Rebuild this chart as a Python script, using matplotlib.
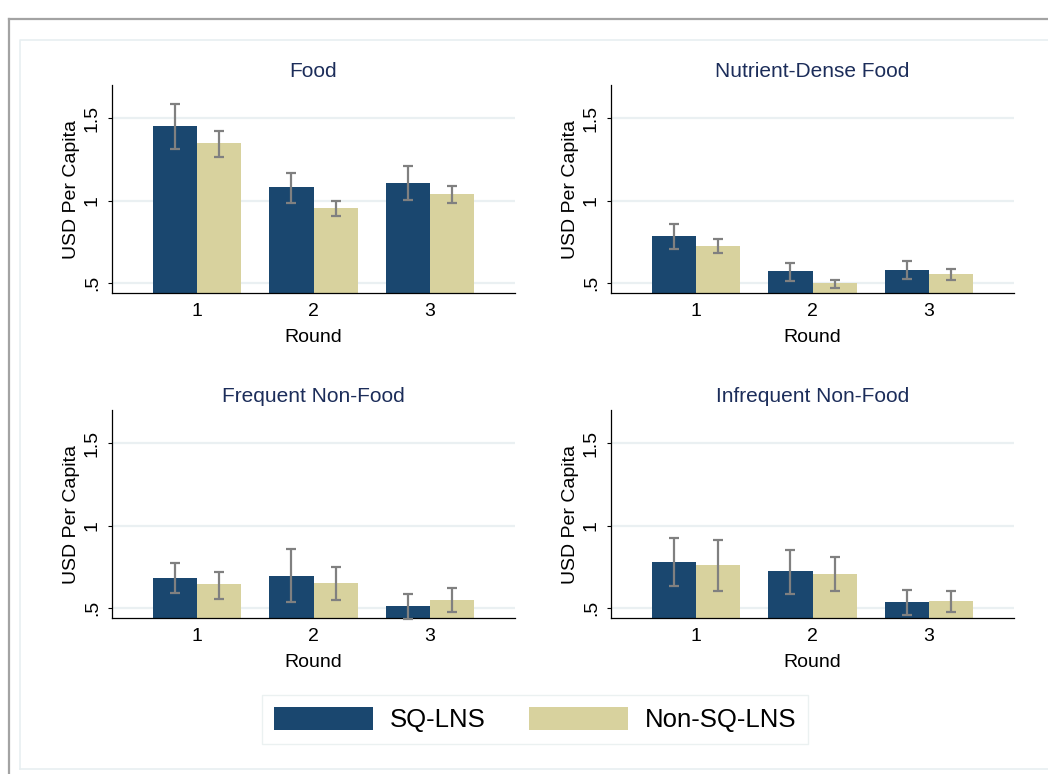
import matplotlib.pyplot as plt
import numpy as np
from matplotlib.patches import Patch
from matplotlib.lines import Line2D

plt.rcParams['font.family'] = ['Liberation Sans', 'DejaVu Sans']

rounds = [1, 2, 3]
titles = ["Food", "Nutrient-Dense Food", "Frequent Non-Food", "Infrequent Non-Food"]
groups = ["SQ-LNS", "Non-SQ-LNS"]

# means and 95% CI bounds, one row per panel
sq_mean = [[1.453, 1.081, 1.106], [0.786, 0.569, 0.578], [0.683, 0.695, 0.512], [0.778, 0.721, 0.532]]
sq_lo = [[1.313, 0.986, 1.002], [0.707, 0.512, 0.523], [0.587, 0.534, 0.432], [0.630, 0.585, 0.453]]
sq_hi = [[1.587, 1.170, 1.211], [0.854, 0.622, 0.630], [0.774, 0.854, 0.581], [0.921, 0.851, 0.605]]
non_mean = [[1.348, 0.954, 1.041], [0.725, 0.496, 0.554], [0.642, 0.648, 0.549], [0.760, 0.707, 0.543]]
non_lo = [[1.267, 0.907, 0.984], [0.678, 0.470, 0.518], [0.555, 0.545, 0.471], [0.604, 0.600, 0.476]]
non_hi = [[1.421, 0.996, 1.091], [0.767, 0.516, 0.583], [0.720, 0.748, 0.622], [0.910, 0.808, 0.601]]

navy = "#1a476f"
sand = "#d8d29e"
err_col = "#808080"
grid_col = "#eaf0f2"
title_col = "#1c2d5a"

fig = plt.figure(figsize=(10.48, 7.74), dpi=100)
fig.patch.set_facecolor("white")

W, H = 1048.0, 774.0
# axes boxes in pixels: left, top, right, bottom
boxes = [(112, 85, 515, 293), (611, 85, 1014, 293),
         (112, 410, 515, 618), (611, 410, 1014, 618)]

x = np.array(rounds, dtype=float)
w = 0.378

for i, (l, t, r, b) in enumerate(boxes):
    ax = fig.add_axes([l / W, 1 - b / H, (r - l) / W, (b - t) / H])
    m1 = np.array(sq_mean[i]); m2 = np.array(non_mean[i])
    ax.bar(x - w / 2, m1, width=w, color=navy, bottom=0, zorder=2)
    ax.bar(x + w / 2, m2, width=w, color=sand, bottom=0, zorder=2)
    for xs, m, lo, hi in [(x - w / 2, m1, sq_lo[i], sq_hi[i]), (x + w / 2, m2, non_lo[i], non_hi[i])]:
        eb = ax.errorbar(xs, m, yerr=[m - np.array(lo), np.array(hi) - m], fmt="none",
                         ecolor=err_col, elinewidth=1.6, capsize=3.4, capthick=1.6, zorder=3)
        for art in eb.lines[1] + eb.lines[2]:
            art.set_clip_on(False)
    ax.set_xlim(0.27, 3.73)
    ax.set_ylim(0.437, 1.703)
    ax.set_yticks([0.5, 1, 1.5])
    ax.set_yticklabels([".5", "1", "1.5"], rotation=90, va="center", fontsize=14)
    ax.set_xticks(rounds)
    ax.set_xticklabels([str(k) for k in rounds], fontsize=14)
    ax.tick_params(axis="x", length=0, pad=7.5)
    ax.tick_params(axis="y", length=3, width=0.8, pad=5)
    ax.yaxis.grid(True, color=grid_col, linewidth=1.6, zorder=0)
    ax.set_axisbelow(True)
    for s in ["top", "right"]:
        ax.spines[s].set_visible(False)
    ax.spines["left"].set_linewidth(0.9)
    ax.spines["bottom"].set_linewidth(0.9)
    ax.set_ylabel("USD Per Capita", fontsize=14, labelpad=3)
    ax.set_xlabel("Round", fontsize=14, labelpad=6)
    ax.set_title(titles[i], fontsize=15, color=title_col, pad=6)

# outer frames
fig.add_artist(Line2D([8.7 / W, 8.7 / W], [0, 1 - 19 / H], transform=fig.transFigure, color="#a3a3a3", linewidth=1.6))
fig.add_artist(Line2D([8.7 / W, 1], [1 - 19 / H, 1 - 19 / H], transform=fig.transFigure, color="#a3a3a3", linewidth=1.6))
fig.add_artist(Line2D([20 / W, 20 / W, 1], [1 - 769 / H, 1 - 40 / H, 1 - 40 / H], transform=fig.transFigure, color="#e8eff1", linewidth=1.2))
fig.add_artist(Line2D([20 / W, 1], [1 - 769 / H, 1 - 769 / H], transform=fig.transFigure, color="#e8eff1", linewidth=1.2))

handles = [Patch(facecolor=navy, label=groups[0]), Patch(facecolor=sand, label=groups[1])]
leg = fig.legend(handles=handles, loc="center", bbox_to_anchor=(535 / W, 1 - 719.5 / H), ncol=2,
                 fontsize=18.5, frameon=True, fancybox=False, edgecolor="#e6eeee",
                 handlelength=3.85, handleheight=1.03, handletextpad=0.65, columnspacing=1.7,
                 borderpad=0.45, borderaxespad=0)
leg.get_frame().set_linewidth(1.0)

fig.savefig("out.png", dpi=100, facecolor="white")
